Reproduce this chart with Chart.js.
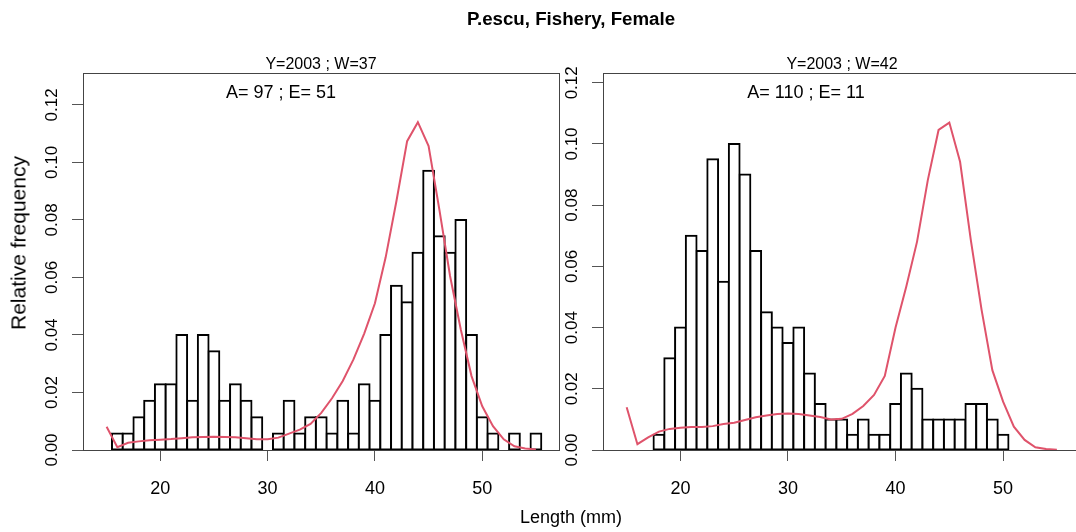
<!DOCTYPE html>
<html lang="en">
<head>
<meta charset="UTF-8">
<title>P.escu, Fishery, Female</title>
<script src="https://cdn.jsdelivr.net/npm/chart.js"></script>
<style>
  body {
    margin: 0;
    width: 1076px;
    height: 532px;
    overflow: hidden;
    position: relative;
    background: #fff;
    font-family: "Liberation Sans", Arial, sans-serif;
    color: #000;
  }
  canvas { position: absolute; top: 0; }
  .txt { position: absolute; white-space: nowrap; line-height: 1; z-index: 2; }
  .ctr { transform: translateX(-50%); }
</style>
</head>
<body>
<canvas id="leftPanel" width="580" height="532" style="left:0"></canvas>
<canvas id="rightPanel" width="540" height="532" style="left:560px"></canvas>

<div class="txt ctr" style="left:571px; top:10px; font-size:18.7px; font-weight:bold;">P.escu, Fishery, Female</div>

<div class="txt ctr" style="left:321px; top:56px; font-size:16px;">Y=2003 ; W=37</div>
<div class="txt ctr" style="left:842px; top:56px; font-size:16px;">Y=2003 ; W=42</div>

<div class="txt ctr" style="left:281px; top:83px; font-size:18px;">A= 97 ; E= 51</div>
<div class="txt ctr" style="left:806px; top:83px; font-size:18px;">A= 110 ; E= 11</div>

<div class="txt ctr" style="left:571px; top:508px; font-size:18px;">Length (mm)</div>
<div class="txt" style="left:18px; top:243px; font-size:21px; transform:translate(-50%,-50%) rotate(-90deg);">Relative frequency</div>

<script>
// length classes (mm), one per histogram bin
const lengths = [15, 16, 17, 18, 19, 20, 21, 22, 23, 24, 25, 26, 27, 28, 29, 30, 31, 32, 33, 34, 35,
                 36, 37, 38, 39, 40, 41, 42, 43, 44, 45, 46, 47, 48, 49, 50, 51, 52, 53, 54, 55];

// W=37 sample: observed relative frequencies and fitted curve
const freqW37 = [0, 0.0057, 0.0057, 0.0114, 0.0171, 0.0229, 0.0229, 0.0400, 0.0171, 0.0400, 0.0343,
                 0.0171, 0.0229, 0.0171, 0.0114, 0, 0.0057, 0.0171, 0.0057, 0.0114, 0.0114,
                 0.0057, 0.0171, 0.0057, 0.0229, 0.0171, 0.0400, 0.0571, 0.0514, 0.0686, 0.0971,
                 0.0743, 0.0686, 0.0800, 0.0400, 0.0114, 0.0057, 0, 0.0057, 0, 0.0057];
const fitW37 = [0.0081, 0.0010, 0.0025, 0.0030, 0.0034, 0.0036, 0.0038, 0.0041, 0.0044, 0.0045, 0.0046,
                0.0045, 0.0044, 0.0041, 0.0037, 0.0037, 0.0043, 0.0057, 0.0071, 0.0091, 0.0129,
                0.0180, 0.0240, 0.0315, 0.0405, 0.0510, 0.0670, 0.0865, 0.1074, 0.1140, 0.1057,
                0.0837, 0.0605, 0.0419, 0.0257, 0.0152, 0.0083, 0.0037, 0.0013, 0.0005, 0.0002];

// W=42 sample
const freqW42 = [0, 0, 0, 0.005, 0.030, 0.040, 0.070, 0.065, 0.095, 0.055, 0.100,
                 0.090, 0.065, 0.045, 0.040, 0.035, 0.040, 0.025, 0.015, 0.010, 0.010,
                 0.005, 0.010, 0.005, 0.005, 0.015, 0.025, 0.020, 0.010, 0.010, 0.010,
                 0.010, 0.015, 0.015, 0.010, 0.005, 0, 0, 0, 0, 0];
const fitW42 = [0.0140, 0.0019, 0.0041, 0.0060, 0.0069, 0.0073, 0.0075, 0.0075, 0.0078, 0.0085, 0.0089,
                0.0098, 0.0107, 0.0113, 0.0118, 0.0119, 0.0118, 0.0113, 0.0108, 0.0100, 0.0102,
                0.0118, 0.0144, 0.0180, 0.0242, 0.0400, 0.0534, 0.0681, 0.0882, 0.1046, 0.1070,
                0.0942, 0.0686, 0.0458, 0.0261, 0.0158, 0.0076, 0.0033, 0.0009, 0.0003, 0.0001];

const xTicks = [20, 30, 40, 50];
const yTicks = [0, 0.02, 0.04, 0.06, 0.08, 0.10, 0.12];

Chart.defaults.font.family = '"Liberation Sans", Arial, sans-serif';
Chart.defaults.color = '#000';

// box around the plot region plus y labels written upwards, base-graphics style
const panelFrame = {
  id: 'panelFrame',
  afterDraw(chart) {
    const { ctx, chartArea: a, scales: { y } } = chart;
    ctx.save();
    ctx.strokeStyle = '#444';
    ctx.lineWidth = 1;
    ctx.strokeRect(Math.round(a.left) + 0.5, Math.round(a.top) + 0.5,
                   Math.round(a.right - a.left), Math.round(a.bottom - a.top));
    ctx.fillStyle = '#000';
    ctx.font = '17px "Liberation Sans", Arial, sans-serif';
    ctx.textAlign = 'center';
    ctx.textBaseline = 'alphabetic';
    yTicks.forEach(v => {
      ctx.save();
      ctx.translate(a.left - 26, y.getPixelForValue(v));
      ctx.rotate(-Math.PI / 2);
      ctx.fillText(v.toFixed(2), 0, 0);
      ctx.restore();
    });
    ctx.restore();
  }
};

function makePanel(id, freq, fit, cfg) {
  return new Chart(document.getElementById(id), {
    type: 'bar',
    data: {
      datasets: [
        {
          type: 'line',
          data: lengths.map((x, i) => ({ x, y: fit[i] })),
          borderColor: '#DF536B',
          borderWidth: 2,
          pointRadius: 0,
          tension: 0,
          order: 0
        },
        {
          type: 'bar',
          data: lengths.map((x, i) => ({ x, y: freq[i] })),
          // empty classes show up as a dark stub on the baseline
          backgroundColor: c => (c.raw && c.raw.y === 0 ? '#000' : '#fff'),
          borderColor: '#000',
          borderWidth: 2,
          borderSkipped: false,
          inflateAmount: 1,
          barPercentage: 1,
          categoryPercentage: 1,
          order: 1
        }
      ]
    },
    options: {
      responsive: false,
      animation: false,
      events: [],
      layout: { padding: { top: 73, right: cfg.padRight, left: 0, bottom: 0 } },
      plugins: { legend: { display: false }, tooltip: { enabled: false } },
      scales: {
        x: {
          type: 'linear',
          min: 12.8,
          max: 57.15,
          offset: false,
          grid: { offset: false, drawOnChartArea: false, drawTicks: true, tickLength: 11, tickColor: '#555' },
          border: { display: true, color: '#555' },
          ticks: { font: { size: 18 }, padding: 17, maxRotation: 0 },
          afterBuildTicks: s => { s.ticks = xTicks.map(v => ({ value: v })); },
          afterFit: s => { s.height = 82; }
        },
        y: {
          min: 0,
          max: cfg.ymax,
          grid: { drawOnChartArea: false, drawTicks: true, tickLength: 11, tickColor: '#555' },
          border: { display: true, color: '#555' },
          ticks: { display: false },
          afterBuildTicks: s => { s.ticks = yTicks.map(v => ({ value: v })); },
          afterFit: s => { s.width = cfg.axisWidth; }
        }
      }
    },
    plugins: [panelFrame]
  });
}

makePanel('leftPanel', freqW37, fitW37, { ymax: 0.1311, axisWidth: 83, padRight: 21 });
makePanel('rightPanel', freqW42, fitW42, { ymax: 0.1232, axisWidth: 43, padRight: 20 });
</script>
</body>
</html>
